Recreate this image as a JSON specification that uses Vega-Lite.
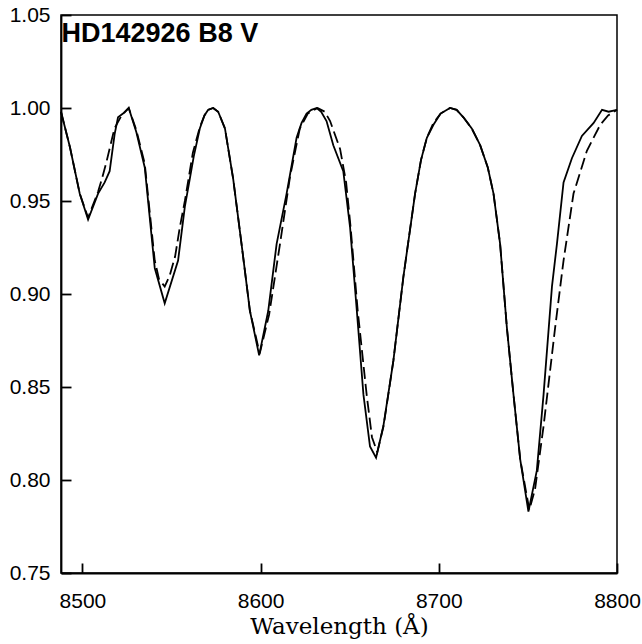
{
  "$schema": "https://vega.github.io/schema/vega-lite/v6.json",
  "width": 556,
  "height": 558,
  "autosize": "none",
  "padding": {"left": 61, "top": 15, "right": 25, "bottom": 71},
  "background": "white",
  "config": {
    "view": {"stroke": "black", "strokeWidth": 1.5},
    "axis": {
      "grid": false,
      "domainColor": "black",
      "domainWidth": 1.8,
      "tickColor": "black",
      "tickWidth": 1.8,
      "tickSize": -10,
      "labelFont": "Liberation Sans",
      "labelFontSize": 21,
      "labelColor": "black"
    }
  },
  "datasets": {
    "observed": [
      {"w": 8488, "f": 0.998}, {"w": 8493, "f": 0.979}, {"w": 8498.5, "f": 0.954}, {"w": 8503.2, "f": 0.940},
      {"w": 8508.8, "f": 0.954}, {"w": 8512.5, "f": 0.960}, {"w": 8515.3, "f": 0.966}, {"w": 8518.1, "f": 0.986},
      {"w": 8520, "f": 0.995}, {"w": 8522.8, "f": 0.997}, {"w": 8526, "f": 1.000}, {"w": 8530.3, "f": 0.987},
      {"w": 8535, "f": 0.968}, {"w": 8540.6, "f": 0.914}, {"w": 8546.2, "f": 0.895}, {"w": 8553.7, "f": 0.918},
      {"w": 8557.5, "f": 0.947}, {"w": 8560.3, "f": 0.962}, {"w": 8562.5, "f": 0.974}, {"w": 8565.9, "f": 0.989},
      {"w": 8568.5, "f": 0.996}, {"w": 8570.6, "f": 0.999}, {"w": 8573.4, "f": 1.000}, {"w": 8576.2, "f": 0.998},
      {"w": 8580, "f": 0.989}, {"w": 8584.6, "f": 0.962}, {"w": 8589.3, "f": 0.927}, {"w": 8594, "f": 0.891},
      {"w": 8599.2, "f": 0.867}, {"w": 8604.3, "f": 0.891}, {"w": 8609, "f": 0.927}, {"w": 8614.6, "f": 0.954},
      {"w": 8620.2, "f": 0.984}, {"w": 8623, "f": 0.992}, {"w": 8625.8, "f": 0.997}, {"w": 8628.5, "f": 0.999},
      {"w": 8631.5, "f": 1.000}, {"w": 8634, "f": 0.998}, {"w": 8637, "f": 0.993}, {"w": 8640.8, "f": 0.980},
      {"w": 8646.4, "f": 0.966}, {"w": 8650.2, "f": 0.936}, {"w": 8654, "f": 0.891}, {"w": 8657.7, "f": 0.846},
      {"w": 8661.4, "f": 0.818}, {"w": 8664.8, "f": 0.812}, {"w": 8668.9, "f": 0.829}, {"w": 8674.5, "f": 0.864},
      {"w": 8680.1, "f": 0.909}, {"w": 8686.7, "f": 0.954}, {"w": 8690, "f": 0.972}, {"w": 8693.3, "f": 0.984},
      {"w": 8697, "f": 0.991}, {"w": 8701, "f": 0.997}, {"w": 8706.3, "f": 1.000}, {"w": 8710, "f": 0.999},
      {"w": 8713.8, "f": 0.995}, {"w": 8718.5, "f": 0.989}, {"w": 8723.2, "f": 0.980}, {"w": 8727.5, "f": 0.968},
      {"w": 8730.7, "f": 0.954}, {"w": 8734.4, "f": 0.927}, {"w": 8738.2, "f": 0.882}, {"w": 8741.9, "f": 0.846},
      {"w": 8745.7, "f": 0.811}, {"w": 8750.3, "f": 0.783}, {"w": 8755, "f": 0.805}, {"w": 8758.8, "f": 0.846},
      {"w": 8763.5, "f": 0.904}, {"w": 8766.3, "f": 0.927}, {"w": 8770, "f": 0.960}, {"w": 8774.7, "f": 0.973},
      {"w": 8780.3, "f": 0.985}, {"w": 8786.9, "f": 0.992}, {"w": 8791.6, "f": 0.999}, {"w": 8795.3, "f": 0.998},
      {"w": 8800, "f": 0.999}
    ],
    "model": [
      {"w": 8488, "f": 0.998}, {"w": 8493, "f": 0.979}, {"w": 8498.5, "f": 0.954}, {"w": 8503.2, "f": 0.941},
      {"w": 8508.8, "f": 0.955}, {"w": 8511, "f": 0.962}, {"w": 8513.5, "f": 0.971}, {"w": 8518, "f": 0.989},
      {"w": 8522, "f": 0.996}, {"w": 8526, "f": 1.000}, {"w": 8530.3, "f": 0.988}, {"w": 8535, "f": 0.970},
      {"w": 8540.6, "f": 0.918}, {"w": 8543, "f": 0.908}, {"w": 8546.2, "f": 0.904}, {"w": 8549, "f": 0.910},
      {"w": 8552, "f": 0.920}, {"w": 8554.7, "f": 0.936}, {"w": 8557.5, "f": 0.950}, {"w": 8562, "f": 0.976},
      {"w": 8566, "f": 0.990}, {"w": 8568.5, "f": 0.996}, {"w": 8570.6, "f": 0.999}, {"w": 8573.4, "f": 1.000},
      {"w": 8576.2, "f": 0.998}, {"w": 8580, "f": 0.989}, {"w": 8584.6, "f": 0.962}, {"w": 8589.3, "f": 0.927},
      {"w": 8594, "f": 0.891}, {"w": 8599.5, "f": 0.868}, {"w": 8604.8, "f": 0.889}, {"w": 8610.9, "f": 0.927},
      {"w": 8616.5, "f": 0.963}, {"w": 8622, "f": 0.989}, {"w": 8626.5, "f": 0.997}, {"w": 8632, "f": 1.000},
      {"w": 8636, "f": 0.998}, {"w": 8639, "f": 0.993}, {"w": 8644.6, "f": 0.978}, {"w": 8648, "f": 0.960},
      {"w": 8650.5, "f": 0.936}, {"w": 8654.5, "f": 0.891}, {"w": 8659.5, "f": 0.846}, {"w": 8662.5, "f": 0.823},
      {"w": 8665.5, "f": 0.815}, {"w": 8669, "f": 0.829}, {"w": 8674.5, "f": 0.864}, {"w": 8680.1, "f": 0.909},
      {"w": 8686.7, "f": 0.954}, {"w": 8690, "f": 0.972}, {"w": 8693.3, "f": 0.984}, {"w": 8697, "f": 0.992},
      {"w": 8701, "f": 0.997}, {"w": 8706.3, "f": 1.000}, {"w": 8710, "f": 0.999}, {"w": 8713.8, "f": 0.995},
      {"w": 8718.5, "f": 0.989}, {"w": 8723.2, "f": 0.980}, {"w": 8727.5, "f": 0.968}, {"w": 8730.7, "f": 0.954},
      {"w": 8734.4, "f": 0.927}, {"w": 8738.2, "f": 0.882}, {"w": 8741.9, "f": 0.846}, {"w": 8745.7, "f": 0.811},
      {"w": 8750.8, "f": 0.784}, {"w": 8754, "f": 0.795}, {"w": 8758.8, "f": 0.829}, {"w": 8765.3, "f": 0.882},
      {"w": 8770, "f": 0.918}, {"w": 8775.6, "f": 0.954}, {"w": 8783.1, "f": 0.977}, {"w": 8790.6, "f": 0.991},
      {"w": 8795, "f": 0.996}, {"w": 8800, "f": 0.999}
    ],
    "label": [{"w": 8488.3, "f": 1.0355, "text": "HD142926 B8 V"}]
  },
  "encoding": {
    "x": {
      "field": "w", "type": "quantitative",
      "scale": {"domain": [8488, 8800], "nice": false, "zero": false},
      "axis": {
        "values": [8500, 8600, 8700, 8800],
        "format": "d",
        "labelPadding": 27,
        "labelFlush": false,
        "title": "Wavelength (Å)",
        "titleFont": "DejaVu Serif",
        "titleFontSize": 23,
        "titleFontWeight": "normal",
        "titleColor": "black",
        "titleBaseline": "alphabetic",
        "titleY": 60,
        "titleX": 278
      }
    },
    "y": {
      "field": "f", "type": "quantitative",
      "scale": {"domain": [0.75, 1.05], "nice": false, "zero": false},
      "axis": {
        "values": [0.75, 0.8, 0.85, 0.9, 0.95, 1.0, 1.05],
        "format": ".2f",
        "labelPadding": 21,
        "labelFlush": false,
        "title": null
      }
    }
  },
  "layer": [
    {
      "data": {"name": "model"},
      "mark": {"type": "line", "color": "black", "strokeWidth": 1.8, "strokeDash": [12, 5]}
    },
    {
      "data": {"name": "observed"},
      "mark": {"type": "line", "color": "black", "strokeWidth": 1.8}
    },
    {
      "data": {"name": "label"},
      "mark": {"type": "text", "align": "left", "baseline": "alphabetic", "font": "Liberation Sans", "fontWeight": "bold", "fontSize": 27, "color": "black"},
      "encoding": {"text": {"field": "text"}}
    }
  ]
}
